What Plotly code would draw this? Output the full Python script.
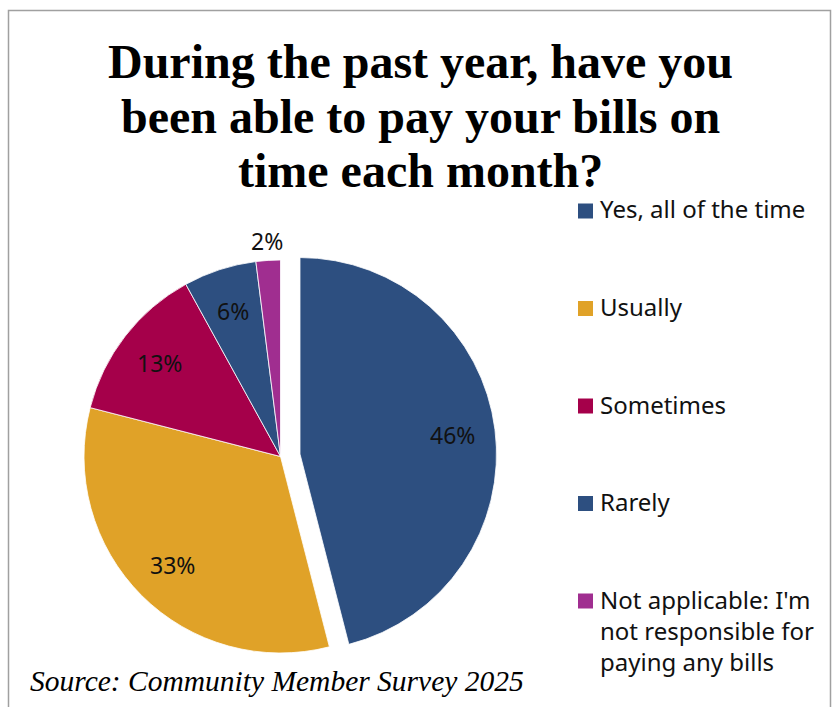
import math
import plotly.graph_objects as go

# Survey responses (percent of members)
categories = [
    "Yes, all of the time",
    "Usually",
    "Sometimes",
    "Rarely",
    "Not applicable: I'm<br>not responsible for<br>paying any bills",
]
values = [46, 33, 13, 6, 2]
colors = ["#2D4F80", "#E0A228", "#A5004A", "#2D4F80", "#A02E90"]
pulls = [0.1, 0, 0, 0, 0]
label_inside = [True, True, True, True, False]

title_lines = [
    "During the past year, have you",
    "been able to pay your bills on",
    "time each month?",
]
source_text = "Source: Community Member Survey 2025"

W, H = 833, 707
SANS = "Noto Sans, Open Sans, sans-serif"
SERIF = "Liberation Serif, Times New Roman, serif"

# Pie geometry in pixels (center of the un-pulled slices and radius)
cx, cy, r = 280.5, 456.5, 196.5
max_pull = max(pulls)
half = r * (1 + max_pull)
domain_x = [(cx - half) / W, (cx + half) / W]
domain_y = [1 - (cy + half) / H, 1 - (cy - half) / H]


def px(x):
    return x / W


def py(y):
    return 1 - y / H


fig = go.Figure()
fig.add_trace(go.Pie(
    labels=categories,
    values=values,
    sort=False,
    direction="clockwise",
    rotation=0,
    pull=pulls,
    marker=dict(colors=colors, line=dict(color="white", width=0.8)),
    textinfo="none",
    hoverinfo="label+percent",
    domain=dict(x=domain_x, y=domain_y),
    showlegend=False,
))

annotations = []
shapes = []

# Percentage labels placed along each slice's bisector
total = sum(values)
cum = 0
for v, p, inside in zip(values, pulls, label_inside):
    mid = 2 * math.pi * (cum + v / 2) / total
    cum += v
    sx, sy = math.sin(mid), -math.cos(mid)
    ox, oy = cx + p * r * sx, cy + p * r * sy
    rf = 0.78 if inside else 1.1
    annotations.append(dict(
        x=px(ox + rf * r * sx), y=py(oy + rf * r * sy),
        xref="paper", yref="paper", showarrow=False,
        text=f"{v}%", font=dict(family=SANS, size=23, color="#111111"),
        xanchor="center", yanchor="middle",
    ))

# Title, one annotation per line
title_top, title_step = 61.5, 54.5
for i, line in enumerate(title_lines):
    annotations.append(dict(
        x=px(420), y=py(title_top + i * title_step), xref="paper", yref="paper",
        showarrow=False, text=f"<b>{line}</b>",
        font=dict(family=SERIF, size=48, color="black"),
        xanchor="center", yanchor="middle",
    ))

# Source note
annotations.append(dict(
    x=px(28), y=py(681), xref="paper", yref="paper", showarrow=False,
    text=f"<i>{source_text}</i>",
    font=dict(family=SERIF, size=29.5, color="black"),
    xanchor="left", yanchor="middle",
))

# Legend drawn as squares with text
leg_x, leg_y0, leg_step, sq = 578, 211, 97.5, 15
line_h = 31
text_shift = -5
for i, (cat, col) in enumerate(zip(categories, colors)):
    yc = leg_y0 + i * leg_step
    shapes.append(dict(
        type="rect", xref="paper", yref="paper",
        x0=px(leg_x), x1=px(leg_x + sq), y0=py(yc + sq / 2), y1=py(yc - sq / 2),
        fillcolor=col, line=dict(width=0),
    ))
    annotations.append(dict(
        x=px(leg_x + sq + 5), y=py(yc - line_h / 2 + text_shift),
        xref="paper", yref="paper",
        showarrow=False, text=cat, align="left",
        font=dict(family=SANS, size=24, color="#111111"),
        xanchor="left", yanchor="top",
    ))

# Chart frame
shapes.append(dict(
    type="rect", xref="paper", yref="paper",
    x0=px(8.5), x1=px(830.5), y0=py(720), y1=py(10.5),
    line=dict(color="#A0A0A0", width=1.5), fillcolor="rgba(0,0,0,0)",
))

fig.update_layout(
    width=W, height=H,
    margin=dict(l=0, r=0, t=0, b=0),
    paper_bgcolor="white",
    plot_bgcolor="white",
    annotations=annotations,
    shapes=shapes,
)

fig.write_html("out.html")
